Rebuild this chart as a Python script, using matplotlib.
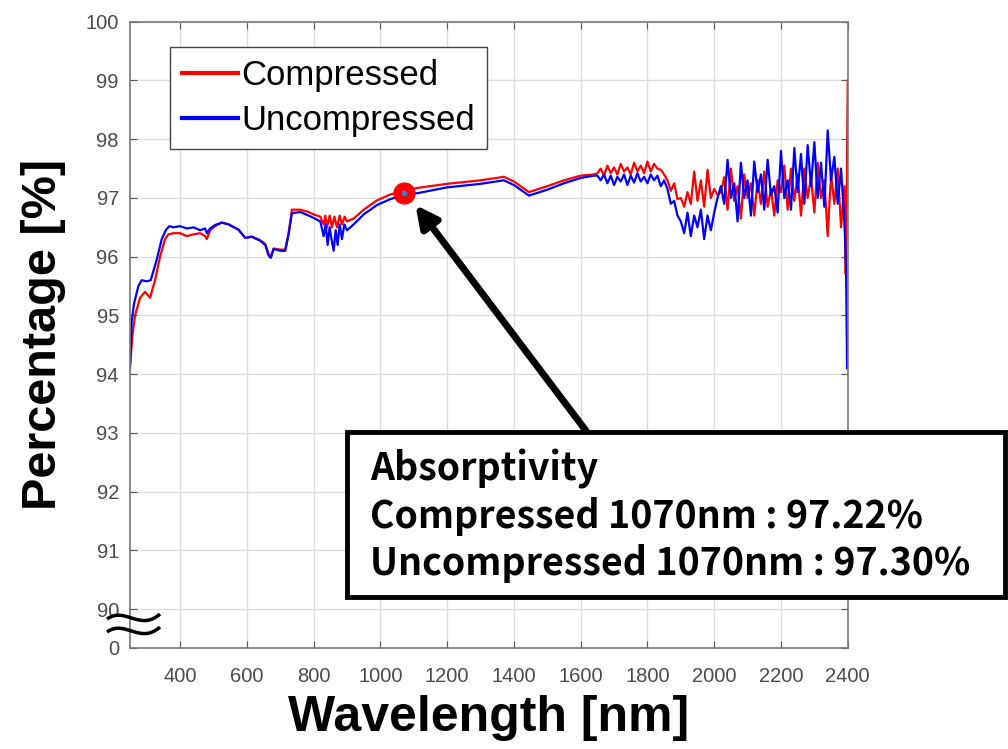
import matplotlib.pyplot as plt
import matplotlib.patches as patches
from matplotlib.path import Path

plt.rcParams['font.family'] = ['Liberation Sans', 'DejaVu Sans']

# ==============================================================
# Data
# ==============================================================
wl_smooth_red = [250, 258, 265, 280, 295, 310, 325, 340, 355, 365, 380, 400, 420, 440, 460, 475,
                 480, 490, 505, 525, 545, 575, 595, 615, 640, 655, 665, 672, 680, 700, 715, 725,
                 735, 760, 785, 800, 820, 830, 835, 840, 848, 855, 862, 870, 878, 885, 893, 900,
                 920, 950, 990, 1030, 1070, 1110, 1200, 1300, 1370, 1400, 1445, 1500, 1550, 1600, 1640]
red_smooth = [94.15, 94.7, 95.0, 95.3, 95.4, 95.3, 95.6, 96.0, 96.3, 96.38, 96.4, 96.4, 96.35, 96.38, 96.4, 96.35,
              96.3, 96.45, 96.52, 96.58, 96.55, 96.46, 96.32, 96.34, 96.28, 96.22, 96.05, 96.0, 96.14, 96.12, 96.12, 96.4,
              96.8, 96.8, 96.76, 96.72, 96.68, 96.55, 96.7, 96.5, 96.7, 96.5, 96.68, 96.5, 96.7, 96.55, 96.68, 96.6,
              96.65, 96.8, 96.96, 97.06, 97.12, 97.17, 97.24, 97.3, 97.36, 97.28, 97.1, 97.2, 97.3, 97.38, 97.4]

wl_smooth_blue = [250, 255, 262, 275, 285, 300, 312, 330, 345, 358, 368, 380, 400, 420, 440, 460, 475,
                  480, 490, 505, 525, 545, 575, 595, 615, 640, 655, 665, 672, 680, 700, 715, 725,
                  735, 760, 785, 800, 820, 830, 836, 842, 848, 855, 860, 866, 872, 878, 885, 892, 900,
                  920, 950, 990, 1030, 1070, 1110, 1200, 1300, 1370, 1400, 1445, 1500, 1550, 1600, 1640]
blue_smooth = [94.1, 94.9, 95.2, 95.5, 95.6, 95.58, 95.6, 95.95, 96.3, 96.46, 96.52, 96.5, 96.52, 96.48, 96.5, 96.45, 96.48,
               96.4, 96.48, 96.54, 96.58, 96.55, 96.46, 96.32, 96.34, 96.27, 96.2, 96.02, 95.98, 96.13, 96.1, 96.1, 96.38,
               96.74, 96.76, 96.7, 96.66, 96.6, 96.35, 96.55, 96.2, 96.5, 96.25, 96.1, 96.45, 96.2, 96.55, 96.3, 96.55, 96.45,
               96.55, 96.72, 96.88, 96.98, 97.05, 97.08, 97.18, 97.24, 97.3, 97.22, 97.04, 97.14, 97.25, 97.34, 97.38]

wl_noisy = [1650, 1660, 1670, 1680, 1690, 1700, 1710, 1720, 1730, 1740, 1750, 1760, 1770, 1780, 1790, 1800,
            1810, 1820, 1830, 1840, 1850, 1860, 1870, 1880, 1890, 1900, 1910, 1920, 1930, 1940, 1950, 1960,
            1970, 1980, 1990, 2000, 2010, 2020, 2030, 2040, 2050, 2060, 2070, 2080, 2090, 2100, 2110, 2120,
            2130, 2140, 2150, 2160, 2170, 2180, 2190, 2200, 2210, 2220, 2230, 2240, 2250, 2260, 2270, 2280,
            2290, 2300, 2310, 2320, 2330, 2340, 2350, 2360, 2370, 2380, 2390]
red_noisy = [97.42, 97.5, 97.38, 97.55, 97.42, 97.52, 97.4, 97.58, 97.45, 97.52, 97.4, 97.6, 97.45, 97.55, 97.42, 97.62,
             97.45, 97.58, 97.5, 97.48, 97.4, 97.3, 97.12, 97.25, 96.98, 97.0, 96.85, 97.1, 96.9, 97.45, 96.95, 97.3,
             96.85, 97.48, 97.0, 97.15, 97.05, 97.1, 97.35, 96.8, 97.5, 96.95, 97.2, 96.65, 97.4, 97.0, 97.25, 96.7,
             97.3, 96.9, 97.45, 96.85, 97.15, 96.7, 97.3, 97.1, 97.55, 96.8, 97.5, 96.95, 97.4, 96.7, 97.5, 97.0,
             97.35, 96.75, 97.6, 97.0, 97.3, 96.35, 97.4, 96.9, 97.5, 96.5, 97.2]
blue_noisy = [97.38, 97.3, 97.4, 97.25, 97.38, 97.22, 97.36, 97.28, 97.4, 97.22, 97.38, 97.26, 97.42, 97.28, 97.36, 97.25,
              97.4, 97.3, 97.38, 97.2, 97.3, 97.15, 96.9, 96.95, 96.7, 96.6, 96.4, 96.75, 96.35, 96.7, 96.5, 96.8,
              96.3, 96.7, 96.45, 96.75, 97.0, 97.2, 96.9, 97.65, 97.0, 97.25, 96.6, 97.6, 97.0, 97.3, 96.7, 97.62,
              97.1, 97.4, 96.8, 97.65, 97.05, 97.2, 96.75, 97.8, 97.0, 97.3, 96.8, 97.85, 97.1, 97.75, 96.9, 97.9,
              97.2, 97.95, 97.0, 97.6, 96.85, 98.15, 97.3, 97.7, 96.9, 97.5, 96.6]

wl_end_red = [2394, 2397, 2400]
red_end = [95.7, 97.0, 99.0]
wl_end_blue = [2395, 2398]
blue_end = [95.8, 94.1]

wl_compressed = wl_smooth_red + wl_noisy + wl_end_red
compressed = red_smooth + red_noisy + red_end
wl_uncompressed = wl_smooth_blue + wl_noisy + wl_end_blue
uncompressed = blue_smooth + blue_noisy + blue_end

marker_wl = 1070
marker_val = 97.08

y_ticks = [89.34, 90, 91, 92, 93, 94, 95, 96, 97, 98, 99, 100]
y_labels = ['0', '90', '91', '92', '93', '94', '95', '96', '97', '98', '99', '100']
x_ticks = [400, 600, 800, 1000, 1200, 1400, 1600, 1800, 2000, 2200, 2400]

# ==============================================================
# Figure
# ==============================================================
fig = plt.figure(figsize=(10.08, 7.49), dpi=100)
ax = fig.add_axes([0.129, 0.135, 0.712, 0.836])

ax.plot(wl_compressed, compressed, color='#ff0000', lw=1.6, label='Compressed')
ax.plot(wl_uncompressed, uncompressed, color='#0000ff', lw=1.6, label='Uncompressed')
ax.plot([marker_wl], [marker_val], 'o', color='#ff0000', markersize=15, zorder=5)
ax.plot([marker_wl], [marker_val], 'o', color='#3a7dd8', markersize=3, zorder=6)

ax.set_xlim(250, 2400)
ax.set_ylim(89.34, 100)
ax.set_xticks(x_ticks)
ax.set_yticks(y_ticks)
ax.set_yticklabels(y_labels)
ax.grid(True, color='#dcdcdc', lw=1)
ax.set_axisbelow(True)
ax.tick_params(direction='in', top=True, right=True, labelsize=14.5, colors='#555555',
               labelcolor='#4a4a4a', length=5)
ax.tick_params(axis='x', pad=14)
ax.tick_params(axis='y', pad=8)
for sp in ax.spines.values():
    sp.set_color('#777777')
    sp.set_linewidth(1.2)

ax.set_xlabel('Wavelength [nm]', fontsize=36, fontweight='bold', labelpad=6)
ax.set_ylabel('Percentage [%]', fontsize=35, fontweight='bold', labelpad=14)

leg = ax.legend(loc='upper left', bbox_to_anchor=(0.056, 0.96), borderaxespad=0, fontsize=25,
                handlelength=1.6, handletextpad=0.1, borderpad=0.35, labelspacing=0.35,
                fancybox=False, edgecolor='#444444', framealpha=1)
for line in leg.get_lines():
    line.set_linewidth(3)

# axis break mark (two tildes, drawn in pixel units of the figure)
for yc in (619, 632):
    verts = [(107, 749 - yc), (125, 749 - yc + 13), (140, 749 - yc - 13), (160, 749 - yc + 5)]
    wave = Path(verts, [Path.MOVETO, Path.CURVE4, Path.CURVE4, Path.CURVE4])
    fig.patches.append(patches.PathPatch(wave, transform=None, facecolor='none',
                                         edgecolor='black', lw=2.5, zorder=8))

# arrow to the 1070 nm point
ax.annotate('', xy=(1105, 96.88), xytext=(1618, 93.02),
            arrowprops=dict(arrowstyle='-|>,head_length=1.3,head_width=0.65', color='black', lw=5,
                            shrinkA=0, shrinkB=0))

# text box
box = patches.Rectangle((0.344, 0.203), 0.653, 0.22, transform=fig.transFigure, facecolor='white',
                        edgecolor='black', lw=3.5, zorder=10)
fig.patches.append(box)
box_font = ['Noto Sans CJK KR', 'DejaVu Sans']
fig.text(0.367, 0.374, 'Absorptivity', fontsize=27, fontweight='bold', family=box_font,
         va='center', zorder=11)
fig.text(0.367, 0.311, 'Compressed 1070nm : 97.22%', fontsize=27, fontweight='bold',
         family=box_font, va='center', zorder=11)
fig.text(0.367, 0.248, 'Uncompressed 1070nm : 97.30%', fontsize=27, fontweight='bold',
         family=box_font, va='center', zorder=11)

fig.savefig('out.png', dpi=100)
